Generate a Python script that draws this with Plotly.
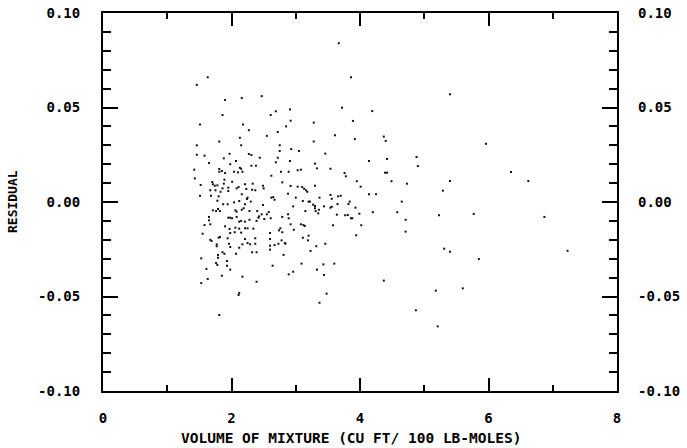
import plotly.graph_objects as go

# Volume of mixture (cu ft / 100 lb-moles) and residuals
volume = [
    1.63, 1.46, 1.90, 2.16, 2.47, 3.67, 3.86, 5.40,
    1.86, 2.69, 2.91, 2.61, 1.51, 2.18, 2.85, 2.92, 3.28, 2.27, 2.72, 2.55,
    2.13, 1.81, 3.28, 1.46, 2.15, 2.75, 2.75, 2.93, 3.05, 1.46, 1.58, 1.97,
    2.27, 2.31, 3.46, 2.44, 1.88, 2.72, 2.07, 1.65, 2.69, 2.91, 1.98, 2.31,
    2.38, 3.30, 1.42, 1.81, 1.81, 1.85, 2.04, 2.10, 2.13, 2.15, 2.17, 1.90,
    2.62, 2.77, 2.89, 3.03, 3.08, 3.33, 1.43, 1.70, 1.71, 1.74, 1.78, 1.89,
    1.88, 2.01, 2.21, 2.11, 2.33, 2.79, 2.49, 2.50, 1.52, 1.67, 1.75, 1.83,
    1.86, 1.95, 1.95, 2.08, 2.23, 2.32, 2.37, 2.88, 2.92, 3.03, 3.10, 3.16,
    3.30, 1.51, 1.68, 1.80, 2.16, 2.25, 2.62, 2.67, 2.65, 3.00, 3.37, 1.78,
    1.87, 1.94, 2.04, 2.12, 2.21, 2.24, 2.30, 2.49, 3.11, 3.20, 3.22, 3.30,
    3.36, 3.44, 1.71, 1.76, 1.79, 1.82, 2.06, 2.08, 2.19, 2.16, 2.28, 2.40,
    2.43, 2.47, 2.55, 2.58, 2.88, 2.96, 3.15, 1.65, 1.65, 1.95, 1.98, 2.01,
    2.08, 2.12, 2.15, 2.21, 2.28, 2.42, 2.39, 2.51, 2.61, 2.79, 2.89, 1.58,
    1.67, 1.90, 1.97, 2.06, 2.12, 2.21, 2.25, 2.34, 2.76, 2.92, 3.08, 3.12,
    1.55, 1.98, 2.05, 2.15, 2.60, 2.74, 2.79, 2.97, 3.20, 1.67, 1.69, 1.80,
    1.82, 1.94, 2.21, 2.37, 2.60, 2.78, 3.11, 3.19, 1.77, 1.77, 1.96, 1.98,
    2.12, 2.17, 2.25, 2.29, 2.37, 2.60, 2.67, 2.73, 2.83, 2.84, 3.32, 3.46,
    1.86, 1.89, 2.07, 2.32, 2.39, 2.60, 2.81, 1.79, 1.79, 1.53, 1.93, 1.93,
    1.76, 1.78, 1.61, 1.98, 2.64, 3.09, 3.43, 1.63, 1.53, 1.85, 2.17, 2.39,
    2.89, 2.96, 3.33, 3.44, 2.12, 2.11, 3.48, 1.81, 3.37,
    3.72, 4.19, 3.89, 3.61, 4.37, 4.40, 3.92, 5.96, 4.88, 4.90, 4.14, 4.42,
    3.54, 4.39, 4.42, 3.76, 3.78, 6.35, 6.62, 5.40, 3.95, 4.49, 4.73, 3.13,
    3.18, 4.01, 5.29, 3.54, 3.56, 3.66, 3.70, 4.14, 4.25, 3.84, 3.82, 4.65,
    3.27, 3.54, 3.56, 3.65, 3.93, 3.30, 3.31, 3.35, 3.64, 3.77, 3.81, 3.86,
    3.88, 3.99, 4.20, 4.58, 5.23, 5.77, 6.87, 4.71, 3.14, 3.58, 4.02, 3.94,
    4.71, 3.23, 5.31, 5.40, 5.85, 7.23, 3.60, 4.37, 5.60, 5.18, 4.87, 5.21,
]
residual = [
    0.066, 0.062, 0.054, 0.055, 0.056, 0.084, 0.066, 0.057,
    0.046, 0.048, 0.049, 0.046, 0.041, 0.041, 0.040, 0.043, 0.042, 0.038, 0.037, 0.035,
    0.034, 0.032, 0.032, 0.030, 0.030, 0.030, 0.027, 0.028, 0.027, 0.025, 0.0245, 0.0255,
    0.0254, 0.0249, 0.0256, 0.0234, 0.0231, 0.0234, 0.0217, 0.0206, 0.021, 0.0217, 0.020, 0.0192,
    0.0192, 0.0203, 0.0171, 0.0175, 0.016, 0.0164, 0.016, 0.0157, 0.0181, 0.0176, 0.016, 0.0153,
    0.0139, 0.016, 0.016, 0.0168, 0.0171, 0.0178, 0.0125, 0.0106, 0.0094, 0.0086, 0.0088, 0.0118,
    0.0097, 0.0107, 0.0094, 0.0079, 0.0097, 0.0104, 0.0086, 0.0072, 0.009, 0.0062, 0.0062, 0.0054,
    0.0072, 0.0076, 0.0058, 0.0072, 0.0069, 0.0065, 0.0062, 0.0044, 0.0085, 0.0081, 0.0079, 0.0062,
    0.0086, 0.0033, 0.0033, 0.003, 0.0041, 0.0023, 0.0023, 0.0012, 0.0026, 0.0023, 0.0023, 0.0007,
    -0.0012, -0.0012, -0.0002, 0.0005, -0.0012, 0.0016, 0.0002, -0.0016, 0.0005, 0.0002, 0.0002, -0.0021,
    -0.0041, -0.0023, -0.0044, -0.0048, -0.0037, -0.0048, -0.0044, -0.0051, -0.0033, -0.0041, -0.0048, -0.0048,
    -0.0076, -0.0065, -0.0065, -0.0053, -0.0065, -0.0023, -0.0048, -0.0079, -0.0097, -0.0083, -0.0083, -0.0086,
    -0.0079, -0.0104, -0.010, -0.0104, -0.0094, -0.0083, -0.010, -0.009, -0.0086, -0.0079, -0.0086, -0.0122,
    -0.0118, -0.0129, -0.0143, -0.0136, -0.0141, -0.0139, -0.0139, -0.0141, -0.0139, -0.0118, -0.0118, -0.0122,
    -0.0168, -0.0164, -0.016, -0.0162, -0.0164, -0.015, -0.016, -0.0147, -0.0178, -0.020, -0.0206, -0.0189,
    -0.0185, -0.0192, -0.0196, -0.0192, -0.0196, -0.0203, -0.0189, -0.0203, -0.0224, -0.0234, -0.0221, -0.0238,
    -0.0242, -0.0224, -0.0217, -0.0224, -0.0221, -0.0231, -0.0228, -0.0221, -0.0217, -0.0221, -0.0234, -0.0221,
    -0.0266, -0.0274, -0.0274, -0.0266, -0.0266, -0.0252, -0.028, -0.028, -0.0295, -0.0298, -0.0312, -0.0337,
    -0.0323, -0.0333, -0.0354, -0.0358, -0.0337, -0.0326, -0.033, -0.0407, -0.0429, -0.039, -0.0395, -0.0422,
    -0.0383, -0.0369, -0.0358, -0.0386, -0.0481, -0.0492, -0.0485, -0.0598, -0.0533,
    0.0499, 0.0481, 0.0429, 0.0353, 0.0346, 0.0323, 0.0333, 0.0308, 0.0238, 0.019, 0.0217, 0.0228,
    0.0176, 0.0155, 0.0155, 0.0153, 0.0136, 0.0159, 0.0111, 0.0111, 0.011, 0.011, 0.0097, 0.007,
    0.0054, 0.0081, 0.006, 0.0037, 0.0017, 0.003, 0.0033, 0.0041, 0.0041, 0.0002, -0.0011, 0.0002,
    -0.0014, -0.003, -0.0025, -0.0011, -0.003, -0.0033, -0.0048, -0.006, -0.0067, -0.007, -0.0069, -0.0086,
    -0.0086, -0.0062, -0.0054, -0.0054, -0.007, -0.0063, -0.0079, -0.0094, -0.0127, -0.0123, -0.0123, -0.0176,
    -0.0157, -0.0259, -0.0247, -0.0263, -0.0302, -0.0258, -0.0326, -0.0416, -0.0457, -0.0469, -0.0573, -0.0658,
]

x_ticks = [0, 2, 4, 6, 8]
x_labels = ["0", "2", "4", "6", "8"]
y_ticks = [-0.10, -0.05, 0.00, 0.05, 0.10]
y_labels = ["-0.10", "-0.05", "0.00", "0.05", "0.10"]

FONT = "DejaVu Sans Mono"
tickfont = dict(family=FONT, size=14, color="black", weight="bold")

fig = go.Figure()
fig.add_trace(go.Scatter(
    x=volume, y=residual, mode="markers",
    marker=dict(symbol="square", size=2, color="#111111", line=dict(width=0)),
    showlegend=False, hoverinfo="skip",
))
fig.add_trace(go.Scatter(
    x=volume, y=residual, mode="markers", yaxis="y2",
    marker=dict(size=1, opacity=0), showlegend=False, hoverinfo="skip",
))

fig.update_layout(
    width=687, height=448,
    margin=dict(l=103, r=70, t=13, b=57, autoexpand=False),
    paper_bgcolor="white", plot_bgcolor="white",
    xaxis=dict(
        range=[0, 8], tickmode="array", tickvals=x_ticks, ticktext=x_labels,
        ticks="inside", ticklen=13, tickwidth=1.5, tickcolor="black",
        showline=True, linewidth=2, linecolor="black", mirror="ticks",
        showgrid=False, zeroline=False, tickfont=tickfont, ticklabelstandoff=13,
        automargin=False,
        minor=dict(tickmode="linear", tick0=0, dtick=1, ticks="inside", ticklen=6,
                   tickwidth=1.5, tickcolor="black", showgrid=False),
    ),
    yaxis=dict(
        range=[-0.1, 0.1], tickmode="array", tickvals=y_ticks, ticktext=y_labels,
        ticks="inside", ticklen=15, tickwidth=1.5, tickcolor="black",
        showline=True, linewidth=2, linecolor="black", mirror="ticks",
        showgrid=False, zeroline=False, tickfont=tickfont, ticklabelstandoff=18,
        automargin=False,
        minor=dict(tickmode="linear", tick0=0, dtick=0.01, ticks="inside", ticklen=8,
                   tickwidth=1.5, tickcolor="black", showgrid=False),
    ),
    yaxis2=dict(
        range=[-0.1, 0.1], overlaying="y", side="right", anchor="x",
        tickmode="array", tickvals=y_ticks, ticktext=y_labels,
        ticks="", showline=False, showgrid=False, zeroline=False,
        tickfont=tickfont, ticklabelstandoff=20, automargin=False,
    ),
    annotations=[
        dict(text="VOLUME OF MIXTURE (CU FT/ 100 LB-MOLES)", xref="paper", yref="paper",
             x=0.482, y=-0.125, xanchor="center", yanchor="middle", showarrow=False,
             font=dict(family=FONT, size=14.5, color="black", weight="bold")),
        dict(text="RESIDUAL", xref="paper", yref="paper", textangle=-90,
             x=-0.177, y=0.5, xanchor="center", yanchor="middle", showarrow=False,
             font=dict(family=FONT, size=13, color="black", weight="bold")),
    ],
)

fig.write_html("out.html")
